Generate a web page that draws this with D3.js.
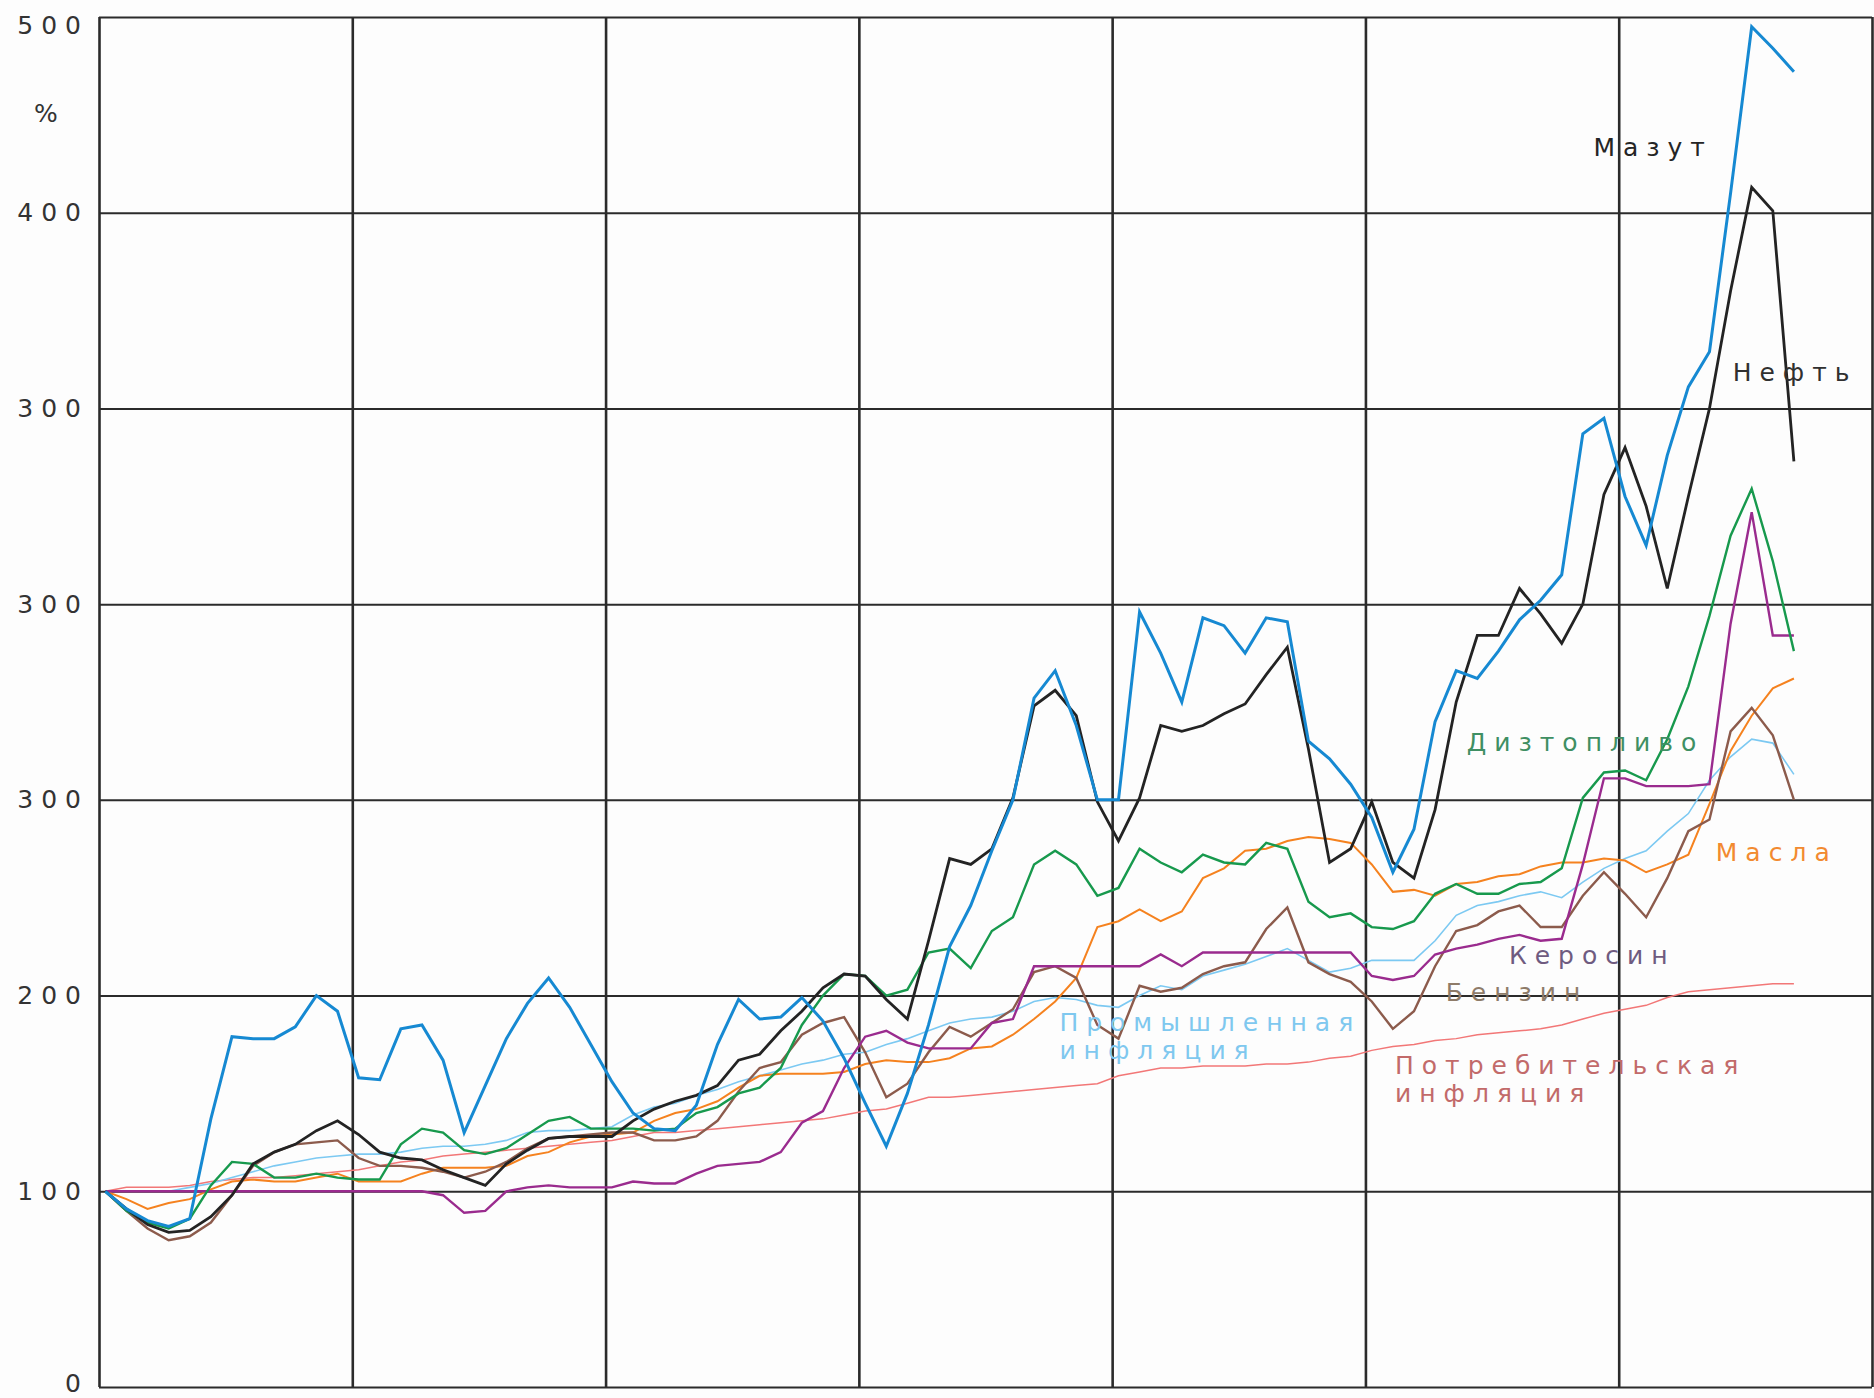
<!DOCTYPE html>
<html>
<head>
<meta charset="utf-8">
<script src="https://cdn.jsdelivr.net/npm/d3@7"></script>
<style>
  body { margin: 0; background: #fff; }
  svg text { font-family: "DejaVu Sans", sans-serif; }
</style>
</head>
<body>
<svg id="chart" width="1874" height="1398"></svg>
<script>
/*
  prices of oil products vs inflation, monthly index (start = 100)
*/

// month index of every point
var months = d3.range(81);

// y gridlines and the labels printed next to them (as in the original)
var yTickValues = [0, 100, 200, 300, 400, 500, 600, 700];
var yTickLabels = ["0", "100", "200", "300", "300", "300", "400", "500"];

// series
var mazut = [100,91,85,82,86,137,179,178,178,184, 200,192,158,157,183,185,167,130,154,178,
  196,209,194,175,156,140,132,131,144,175, 198,188,189,199,187,168,145,123,150,185,
  225,246,274,300,352,366,338,300,300,396, 375,350,393,389,375,393,391,330,321,308,
  291,263,285,340,366,362,376,392,402,415, 487,495,455,430,476,511,529,610,695,684, 672];

var neft = [100,91,83,79,80,87,98,114,120,124, 131,136,129,120,117,116,111,107,103,114,
  121,127,128,128,128,136,142,146,149,154, 167,170,182,192,204,211,210,198,188,228,
  270,267,275,301,348,356,343,299,279,301, 338,335,338,344,349,364,378,326,268,275,
  299,268,260,295,350,384,384,408,395,380, 400,456,480,450,408,455,500,560,613,601, 473];

var dizel = [100,90,84,81,86,103,115,114,107,107, 109,107,106,106,124,132,130,121,119,122,
  129,136,138,132,132,132,131,132,140,143, 150,153,163,185,200,211,210,200,203,222,
  224,214,233,240,267,274,267,251,255,275, 268,263,272,268,267,278,275,248,240,242,
  235,234,238,252,257,252,252,257,258,265, 301,314,315,310,331,358,394,435,459,422, 376];

var kerosin = [100,100,100,100,100,100,100,100,100,100, 100,100,100,100,100,100,98,89,90,100,
  102,103,102,102,102,105,104,104,109,113, 114,115,120,135,141,163,179,182,176,173,
  173,173,186,188,215,215,215,215,215,215, 221,215,222,222,222,222,222,222,222,222,
  210,208,210,221,224,226,229,231,228,229, 267,311,311,307,307,307,308,390,447,384, 384];

var benzin = [100,90,81,75,77,84,98,113,120,124, 125,126,117,113,113,112,110,107,110,115,
  122,127,128,129,130,130,126,126,128,136, 151,163,166,180,186,189,171,148,155,171,
  184,179,186,193,212,215,209,185,178,205, 202,204,211,215,217,234,245,217,211,207,
  197,183,192,215,233,236,243,246,235,235, 251,263,252,240,260,284,290,335,347,333, 300];

var masla = [100,96,91,94,96,101,105,106,105,105, 107,109,105,105,105,109,112,112,112,113,
  118,120,125,128,129,130,136,140,142,146, 153,159,160,160,160,161,165,167,166,166,
  168,173,174,180,188,197,209,235,238,244, 238,243,260,265,274,275,279,281,280,278,
  267,253,254,251,257,258,261,262,266,268, 268,270,269,263,267,272,298,325,343,357, 362];

var promInfl = [100,100,100,100,102,104,107,110,113,115, 117,118,119,119,120,122,123,123,124,126,
  130,131,131,132,133,139,143,145,149,152, 156,159,162,165,167,170,171,175,178,182,
  186,188,189,192,197,199,198,195,194,200, 205,203,210,213,216,220,224,218,212,214,
  218,218,218,228,241,246,248,251,253,250, 258,265,270,274,284,293,310,322,331,329, 313];

var potrInfl = [100,102,102,102,103,105,106,107,107,108, 109,110,111,113,115,116,118,119,120,121,
  122,123,124,125,126,128,130,130,131,132, 133,134,135,136,137,139,141,142,145,148,
  148,149,150,151,152,153,154,155,159,161, 163,163,164,164,164,165,165,166,168,169,
  172,174,175,177,178,180,181,182,183,185, 188,191,193,195,199,202,203,204,205,206, 206];

// drawing order: first is at the bottom
var series = [
  {values: potrInfl, color: '#f27777', width: 1.5},
  {values: promInfl, color: '#7cc9f2', width: 1.6},
  {values: masla,    color: '#f5821f', width: 2},
  {values: benzin,   color: '#8c5b4c', width: 2.4},
  {values: kerosin,  color: '#9a2b8e', width: 2.4},
  {values: dizel,    color: '#17994d', width: 2.4},
  {values: neft,     color: '#232323', width: 2.8},
  {values: mazut,    color: '#1689d2', width: 3}
];

// labels next to the lines (anchored in month / value units)
var labels = [
  {text: ['Мазут'], m: 70.5, v: 629, color: '#252525'},
  {text: ['Нефть'], m: 77.1, v: 514, color: '#303030'},
  {text: ['Дизтопливо'], m: 64.5, v: 325, color: '#3f8f63'},
  {text: ['Масла'], m: 76.3, v: 269, color: '#f28a30'},
  {text: ['Керосин'], m: 66.5, v: 216, color: '#6f5b80'},
  {text: ['Бензин'], m: 63.5, v: 197, color: '#8e7b69'},
  {text: ['Промышленная', 'инфляция'], m: 45.2, v: 182, color: '#7fc8ef'},
  {text: ['Потребительская', 'инфляция'], m: 61.1, v: 160, color: '#c26a6a'}
];

// plot box (note: "top" is a reserved window property, so other names)
var plotLeft = 99, plotRight = 1872, plotTop = 17, plotBottom = 1387;

var svg = d3.select('#chart');
svg.append('rect').attr('width', 1874).attr('height', 1398).attr('fill', '#fdfdfd');

var x = d3.scaleLinear().domain([-0.3, 83.7]).range([plotLeft, plotRight]);
var y = d3.scaleLinear().domain([0, 700]).range([plotBottom, plotTop]);

// vertical gridlines, one per year
var yearTicks = d3.range(8).map(function(k) { return k * 12 - 0.3; });
var xGrid = svg.append('g')
  .attr('transform', 'translate(0,' + plotBottom + ')')
  .call(d3.axisBottom(x).tickValues(yearTicks).tickSize(-(plotBottom - plotTop)).tickFormat(''));
xGrid.select('.domain').remove();
xGrid.selectAll('line').attr('stroke', '#2b2b2b').attr('stroke-width', 2.6);

// horizontal gridlines + labels
var yAxis = svg.append('g')
  .attr('transform', 'translate(' + plotLeft + ',0)')
  .call(d3.axisLeft(y).tickValues(yTickValues)
    .tickFormat(function(d, i) { return yTickLabels[i]; })
    .tickSize(-(plotRight - plotLeft)).tickPadding(10));
yAxis.select('.domain').remove();
yAxis.selectAll('line').attr('stroke', '#2b2b2b').attr('stroke-width', 2);
yAxis.selectAll('text')
  .attr('font-size', 25)
  .attr('letter-spacing', 8)
  .attr('fill', '#333')
  .attr('y', function(d) { return d === 700 ? 8 : (d === 0 ? -4 : 0); });

svg.append('text')
  .attr('x', 46).attr('y', 115)
  .attr('text-anchor', 'middle').attr('dominant-baseline', 'middle')
  .attr('font-size', 25).attr('fill', '#333')
  .text('%');

// lines
var line = d3.line()
  .x(function(d, i) { return x(months[i]); })
  .y(function(d) { return y(d); });

svg.selectAll('path.series')
  .data(series)
  .enter().append('path')
  .attr('class', 'series')
  .attr('d', function(s) { return line(s.values); })
  .attr('fill', 'none')
  .attr('stroke', function(s) { return s.color; })
  .attr('stroke-width', function(s) { return s.width; })
  .attr('stroke-linejoin', 'miter');

// series names
labels.forEach(function(l) {
  var t = svg.append('text')
    .attr('x', x(l.m)).attr('y', y(l.v))
    .attr('font-size', 25)
    .attr('letter-spacing', 8)
    .attr('fill', l.color);
  l.text.forEach(function(s, i) {
    t.append('tspan').attr('x', x(l.m)).attr('dy', i === 0 ? 0 : 28).text(s);
  });
});
</script>
</body>
</html>
